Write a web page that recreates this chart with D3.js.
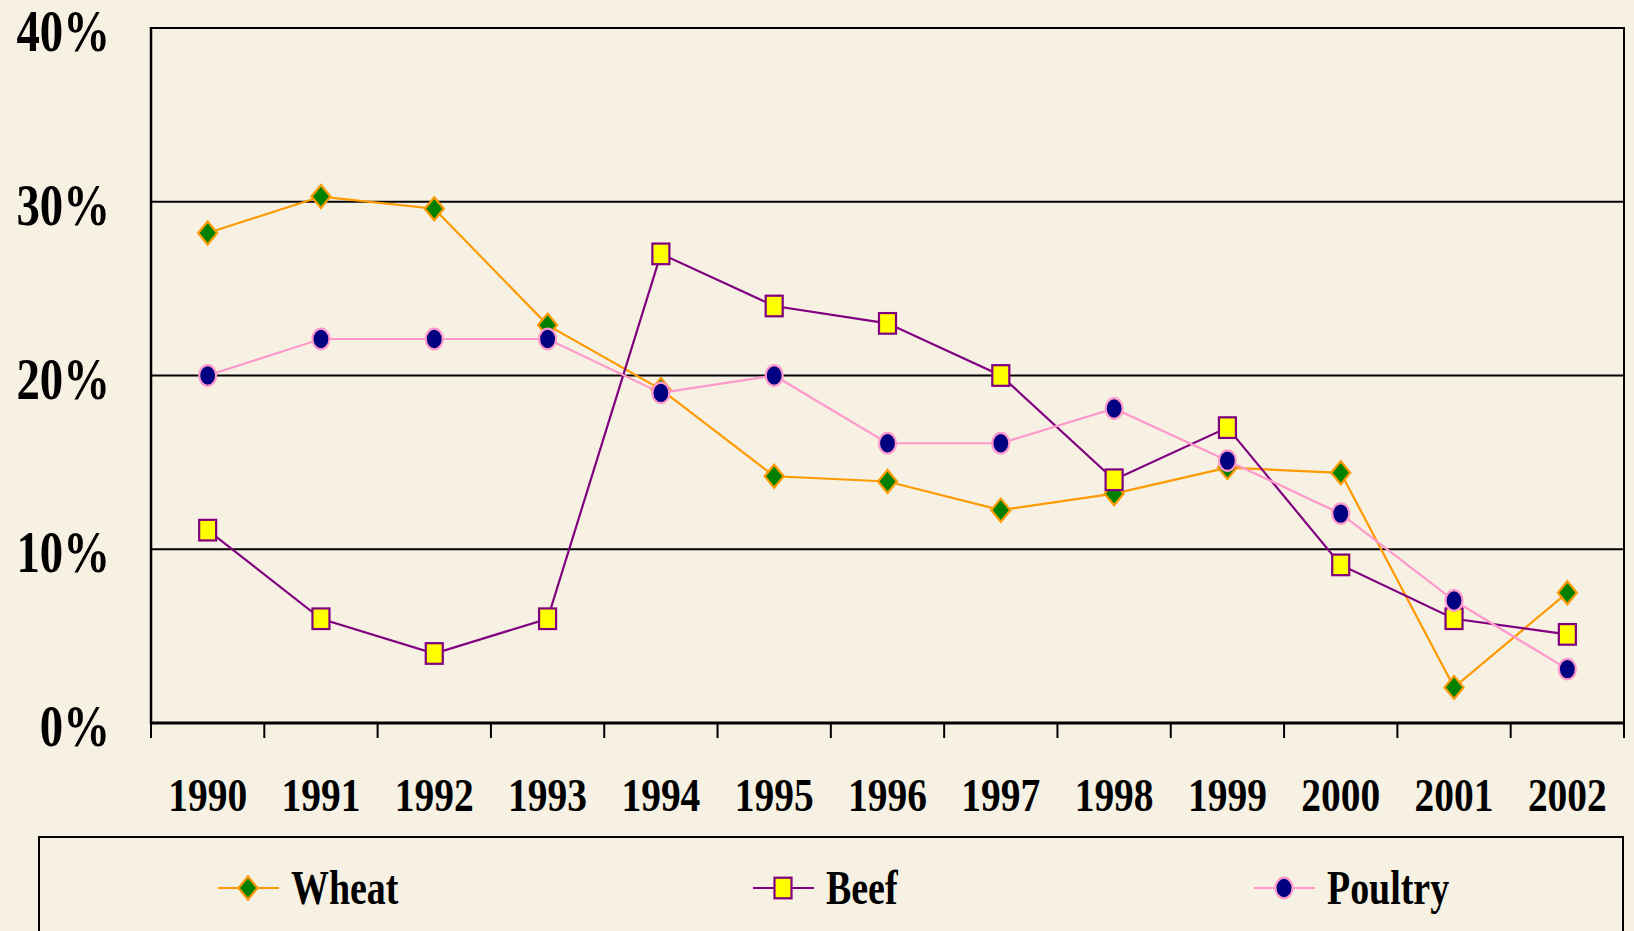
<!DOCTYPE html>
<html>
<head>
<meta charset="utf-8">
<script src="https://cdn.jsdelivr.net/npm/d3@7/dist/d3.min.js"></script>
<style>
  html, body { margin: 0; padding: 0; background: #f6f1e2; }
  svg { display: block; }
  text { font-family: "Liberation Serif", "Times New Roman", serif; font-weight: bold; fill: #000; }
</style>
</head>
<body>
<svg id="chart" width="1634" height="931"></svg>
<script>
const years = ["1990","1991","1992","1993","1994","1995","1996","1997","1998","1999","2000","2001","2002"];
const wheat = [28.2, 30.3, 29.6, 22.9, 19.2, 14.2, 13.9, 12.25, 13.2, 14.7, 14.4, 2.05, 7.5];
const beef = [11.1, 6.0, 4.0, 6.0, 27.0, 24.0, 23.0, 20.0, 14.0, 17.0, 9.1, 6.0, 5.1];
const poultry = [20.0, 22.1, 22.1, 22.1, 19.0, 20.0, 16.1, 16.1, 18.1, 15.1, 12.05, 7.05, 3.1];
const yTicks = [0, 10, 20, 30, 40];
const yTickLabels = ["0%", "10%", "20%", "30%", "40%"];
const seriesNames = ["Wheat", "Beef", "Poultry"];

const svg = d3.select("#chart");
const W = 1634, H = 931;
svg.append("rect").attr("width", W).attr("height", H).attr("fill", "#f6f1e2");

const plot = { left: 151, right: 1624, top: 28, bottom: 723 };
const x = d3.scaleBand().domain(years).range([plot.left, plot.right]).padding(0);
const y = d3.scaleLinear().domain([0, 40]).range([plot.bottom, plot.top]);

// gridlines
svg.append("g").selectAll("line").data(yTicks.filter(t => t > 0)).join("line")
  .attr("x1", plot.left).attr("x2", plot.right)
  .attr("y1", d => y(d)).attr("y2", d => y(d))
  .attr("stroke", "#000").attr("stroke-width", 2);

// frame
svg.append("line").attr("x1", plot.left).attr("x2", plot.left).attr("y1", plot.top - 1).attr("y2", plot.bottom + 1)
  .attr("stroke", "#000").attr("stroke-width", 2.5);
svg.append("line").attr("x1", plot.right).attr("x2", plot.right).attr("y1", plot.top - 1).attr("y2", plot.bottom + 15)
  .attr("stroke", "#000").attr("stroke-width", 2);
svg.append("line").attr("x1", plot.left).attr("x2", plot.right).attr("y1", plot.bottom).attr("y2", plot.bottom)
  .attr("stroke", "#000").attr("stroke-width", 3);

// x ticks at band boundaries
const bounds = years.map(d => x(d)).concat([plot.right]);
svg.append("g").selectAll("line").data(bounds).join("line")
  .attr("x1", d => d).attr("x2", d => d)
  .attr("y1", plot.bottom).attr("y2", plot.bottom + 15)
  .attr("stroke", "#000").attr("stroke-width", 2);

// y labels
svg.append("g").selectAll("text").data(yTicks).join("text")
  .attr("transform", d => `translate(110,${y(d) + 23}) scale(0.78,1)`)
  .attr("text-anchor", "end")
  .attr("font-size", 60)
  .text((d, i) => yTickLabels[i]);

// x labels
svg.append("g").selectAll("text").data(years).join("text")
  .attr("transform", d => `translate(${x(d) + x.bandwidth() / 2},811) scale(0.84,1)`)
  .attr("text-anchor", "middle")
  .attr("font-size", 47)
  .text(d => d);

// marker drawing
function marker(g, type, cx, cy, fill, stroke) {
  if (type === "diamond") {
    g.append("path")
      .attr("d", `M${cx},${cy - 11.5} L${cx + 9.5},${cy} L${cx},${cy + 11.5} L${cx - 9.5},${cy} Z`)
      .attr("fill", fill).attr("stroke", stroke).attr("stroke-width", 2.2);
  } else if (type === "square") {
    g.append("rect")
      .attr("x", cx - 8.5).attr("y", cy - 10.3).attr("width", 17).attr("height", 20.6)
      .attr("fill", fill).attr("stroke", stroke).attr("stroke-width", 2.2);
  } else {
    g.append("ellipse")
      .attr("cx", cx).attr("cy", cy).attr("rx", 8.5).attr("ry", 10.3)
      .attr("fill", fill).attr("stroke", stroke).attr("stroke-width", 2.2);
  }
}

const series = [
  { name: seriesNames[0], values: wheat, line: "#ff9900", fill: "#008000", stroke: "#ff9900", type: "diamond" },
  { name: seriesNames[1], values: beef, line: "#800080", fill: "#ffff00", stroke: "#800080", type: "square" },
  { name: seriesNames[2], values: poultry, line: "#ff99cc", fill: "#000080", stroke: "#ff99cc", type: "circle" }
];

const lineGen = d3.line().x((d, i) => x(years[i]) + x.bandwidth() / 2).y(d => y(d));

series.forEach(s => {
  const g = svg.append("g");
  g.append("path").datum(s.values).attr("d", lineGen)
    .attr("fill", "none").attr("stroke", s.line).attr("stroke-width", 2.2);
  s.values.forEach((v, i) => marker(g, s.type, x(years[i]) + x.bandwidth() / 2, y(v), s.fill, s.stroke));
});

// legend
svg.append("rect").attr("x", 39).attr("y", 837).attr("width", 1584).attr("height", 120)
  .attr("fill", "none").attr("stroke", "#000").attr("stroke-width", 2);
const legendX = [248, 783, 1284];
const legendY = 888;
series.forEach((s, i) => {
  const g = svg.append("g");
  const cx = legendX[i];
  g.append("line").attr("x1", cx - 30).attr("x2", cx + 31).attr("y1", legendY).attr("y2", legendY)
    .attr("stroke", s.line).attr("stroke-width", 2.2);
  marker(g, s.type, cx, legendY, s.fill, s.stroke);
  g.append("text")
    .attr("transform", `translate(${cx + 43},${legendY + 16}) scale(0.79,1)`)
    .attr("font-size", 48)
    .text(s.name);
});
</script>
</body>
</html>
